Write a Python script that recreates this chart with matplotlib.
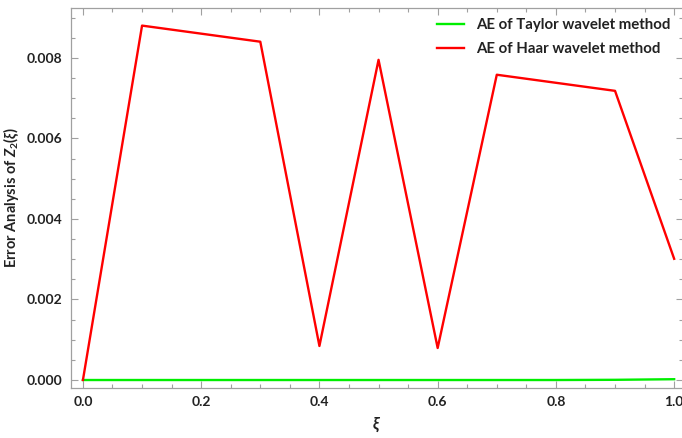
import matplotlib
matplotlib.use("Agg")
import matplotlib.pyplot as plt
from matplotlib.ticker import MultipleLocator

plt.rcParams['font.family'] = ['Lato', 'DejaVu Sans']
plt.rcParams['mathtext.fontset'] = 'custom'
plt.rcParams['mathtext.it'] = 'Lato:italic:bold'
plt.rcParams['mathtext.rm'] = 'Lato:bold'

# data
xi = [0.0, 0.1, 0.2, 0.3, 0.4, 0.5, 0.6, 0.7, 0.8, 0.9, 1.0]
ae_taylor = [0.0, 0.0, 0.0, 0.0, 0.0, 0.0, 0.0, 0.0, 0.0, 0.000005, 0.00002]
ae_haar = [0.0, 0.00880, 0.00860, 0.00840, 0.000845, 0.00795,
           0.000795, 0.00758, 0.00738, 0.00718, 0.00301]

fig = plt.figure(figsize=(6.82, 4.38), dpi=100)
ax = fig.add_axes([0.104, 0.114, 0.8975, 0.868])

ax.plot(xi, ae_taylor, color='#00ee00', lw=1.7, label='AE of Taylor wavelet method')
ax.plot(xi, ae_haar, color='#ff0000', lw=1.7, label='AE of Haar wavelet method')

ax.set_xlim(-0.0203, 1.015)
ax.set_ylim(-0.0002, 0.00924)

ax.xaxis.set_major_locator(MultipleLocator(0.2))
ax.xaxis.set_minor_locator(MultipleLocator(0.05))
ax.yaxis.set_major_locator(MultipleLocator(0.002))
ax.yaxis.set_minor_locator(MultipleLocator(0.0005))
ax.xaxis.set_major_formatter(plt.FuncFormatter(lambda v, p: f"{v:.1f}"))
ax.yaxis.set_major_formatter(plt.FuncFormatter(lambda v, p: f"{v:.3f}"))

for s in ax.spines.values():
    s.set_color('#a0a0a0')
    s.set_linewidth(0.9)
ax.tick_params(which='both', direction='in', top=True, right=True,
               color='#a0a0a0', width=0.8)
ax.tick_params(which='major', length=5, labelsize=10, labelcolor='#222222', pad=6)
ax.tick_params(which='minor', length=3)
for lab in ax.get_xticklabels() + ax.get_yticklabels():
    lab.set_fontweight('bold')

ax.set_xlabel(r'$\xi$', fontsize=12, color='#222222', labelpad=5)
ax.set_ylabel(r'Error Analysis of $Z_2(\xi)$', fontsize=10.5, fontweight='bold',
              color='#222222', labelpad=4)

leg = ax.legend(loc='upper right', frameon=False, fontsize=10.8,
                handlelength=1.8, handletextpad=0.8, labelspacing=0.65,
                borderaxespad=0.3, bbox_to_anchor=(0.997, 1.0))
for t in leg.get_texts():
    t.set_fontweight('bold')
    t.set_color('#222222')

fig.savefig('out.png', dpi=100)
